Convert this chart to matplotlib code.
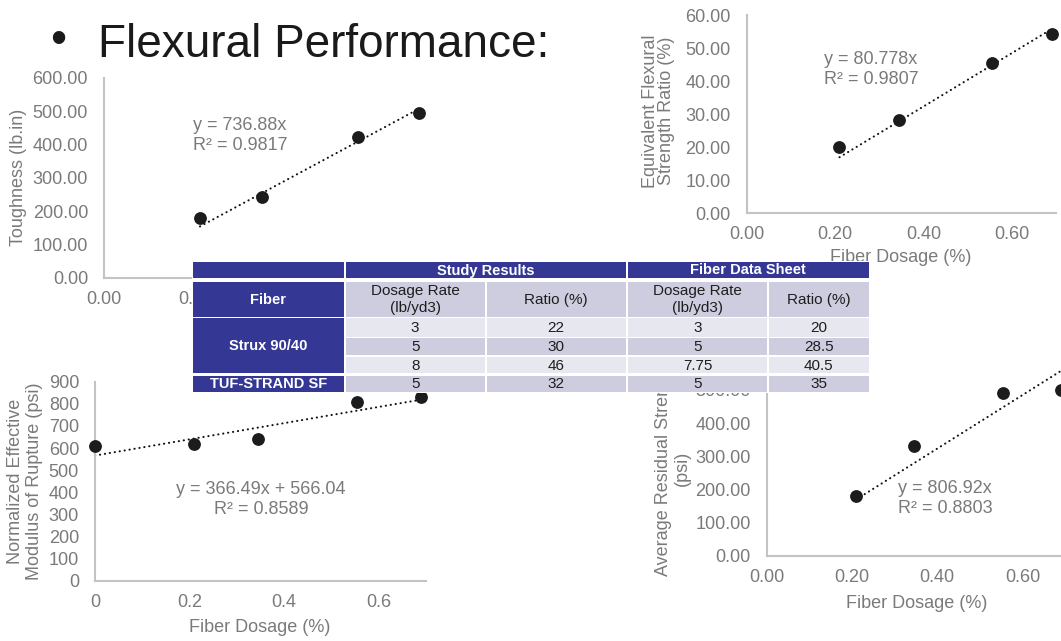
import matplotlib
matplotlib.use("Agg")
import matplotlib.pyplot as plt
from matplotlib.patches import Rectangle
from matplotlib.ticker import FormatStrFormatter, MultipleLocator
from matplotlib import font_manager

# ---------------- data ----------------
fiber_dosage = [0.21, 0.345, 0.555, 0.69]
toughness = [181, 242, 422, 496]
flexural_ratio = [20.2, 28.3, 45.4, 54.3]
mor_dosage = [0.0, 0.21, 0.345, 0.555, 0.69]
mor_values = [609, 618, 639, 807, 832]
residual_strength = [181, 330, 492, 499]

toughness_fit = (736.88, 0.0, 0.9817)
ratio_fit = (80.778, 0.0, 0.9807)
mor_fit = (366.49, 566.04, 0.8589)
residual_fit = (806.92, 0.0, 0.8803)

table_groups = ["Study Results", "Fiber Data Sheet"]
table_columns = ["Fiber", "Dosage Rate\n(lb/yd3)", "Ratio (%)", "Dosage Rate\n(lb/yd3)", "Ratio (%)"]
fiber_names = ["Strux 90/40", "TUF-STRAND SF"]
fiber_row_counts = [3, 1]
study_dosage = ["3", "5", "8", "5"]
study_ratio = ["22", "30", "46", "32"]
sheet_dosage = ["3", "5", "7.75", "5"]
sheet_ratio = ["20", "28.5", "40.5", "35"]

# ---------------- style ----------------
W, H = 1061, 641
SANS = ["Liberation Sans", "DejaVu Sans"]
avail = {f.name for f in font_manager.fontManager.ttflist}
NARROW = ["Liberation Sans Narrow", "Liberation Sans"] if "Liberation Sans Narrow" in avail else SANS
plt.rcParams["font.family"] = SANS

GRAY_TXT = "#7a7a7a"
AXIS_GRAY = "#c3c3c3"
BLUE = "#343894"
LIGHT = "#e7e7f0"
DARK = "#cdcddf"
FS = 13

fig = plt.figure(figsize=(W / 100, H / 100), dpi=100)
fig.patch.set_facecolor("white")


def px_axes(left, top, right, bottom, **kw):
    return fig.add_axes([left / W, 1 - bottom / H, (right - left) / W, (bottom - top) / H], **kw)


def style_axes(ax, xlim, ylim, xstep, ystep, xfmt, yfmt):
    ax.set_xlim(*xlim)
    ax.set_ylim(*ylim)
    ax.xaxis.set_major_locator(MultipleLocator(xstep))
    ax.yaxis.set_major_locator(MultipleLocator(ystep))
    ax.xaxis.set_major_formatter(FormatStrFormatter(xfmt))
    ax.yaxis.set_major_formatter(FormatStrFormatter(yfmt))
    for s in ("top", "right"):
        ax.spines[s].set_visible(False)
    for s in ("left", "bottom"):
        ax.spines[s].set_color(AXIS_GRAY)
        ax.spines[s].set_linewidth(1.5)
    ax.tick_params(axis="x", length=0, pad=9.5, labelsize=FS, labelcolor=GRAY_TXT)
    ax.tick_params(axis="y", length=0, pad=11.5, labelsize=FS, labelcolor=GRAY_TXT)
    ax.patch.set_alpha(0)


def scatter_with_trend(ax, xs, ys, fit, x0, x1):
    slope, intercept, _ = fit
    ax.plot([x0, x1], [slope * x0 + intercept, slope * x1 + intercept],
            color="#111111", lw=1.5, linestyle=(0, (0.1, 2.3)),
            dash_capstyle="round", zorder=2, clip_on=False)
    ax.plot(xs, ys, "o", color="#1c1c1c", markersize=8.2, zorder=3, clip_on=False)


def fit_label(slope, intercept, r2):
    eq = f"y = {slope:g}x" if intercept == 0 else f"y = {slope:g}x + {intercept:g}"
    return f"{eq}\nR² = {r2:.4f}"


# Toughness (top left)
ax1 = px_axes(104, 78, 424, 278)
style_axes(ax1, (0, 0.7), (0, 600), 0.2, 100, "%.2f", "%.2f")
scatter_with_trend(ax1, fiber_dosage, toughness, toughness_fit, fiber_dosage[0], fiber_dosage[-1])

# Equivalent flexural strength ratio (top right)
ax2 = px_axes(746.7, 15, 1056, 213.3)
style_axes(ax2, (0, 0.7), (0, 60), 0.2, 10, "%.2f", "%.2f")
scatter_with_trend(ax2, fiber_dosage, flexural_ratio, ratio_fit, fiber_dosage[0], fiber_dosage[-1])

# Normalized effective MOR (bottom left)
ax3 = px_axes(95, 381.7, 426, 580.7)
style_axes(ax3, (0, 0.7), (0, 900), 0.2, 100, "%g", "%d")
scatter_with_trend(ax3, mor_dosage, mor_values, mor_fit, mor_dosage[0], mor_dosage[-1])

# Average residual strength (bottom right)
ax4 = px_axes(766.7, 356.7, 1065, 555.7)
style_axes(ax4, (0, 0.7), (0, 600), 0.2, 100, "%.2f", "%.2f")
scatter_with_trend(ax4, fiber_dosage, residual_strength, residual_fit, fiber_dosage[0], fiber_dosage[-1])


# ---------------- pixel-space layers ----------------
def pixel_layer(z):
    a = fig.add_axes([0, 0, 1, 1], zorder=z)
    a.set_xlim(0, W)
    a.set_ylim(H, 0)
    a.axis("off")
    a.patch.set_alpha(0)
    return a


labels = pixel_layer(5)   # axis titles, equations, heading
tab = pixel_layer(10)     # table drawn over everything


def gtext(x, y, s, **kw):
    kw.setdefault("color", GRAY_TXT)
    kw.setdefault("fontsize", FS)
    kw.setdefault("linespacing", 1.1)
    return labels.text(x, y, s, **kw)


# axis titles
gtext(18.5, 177.5, "Toughness (lb.in)", rotation=90, ha="center", va="center")
gtext(264, 321, "Fiber Dosage (%)", ha="center", va="center")
gtext(658.5, 111, "Equivalent Flexural\nStrength Ratio (%)", rotation=90, ha="center",
      va="center", linespacing=0.85)
gtext(901, 258, "Fiber Dosage (%)", ha="center", va="center")
gtext(25, 481.5, "Normalized Effective\nModulus of Rupture (psi)", rotation=90, ha="center",
      va="center", linespacing=1.15)
gtext(260, 627.5, "Fiber Dosage (%)", ha="center", va="center")
gtext(672.5, 468, "Average Residual Strength\n(psi)", rotation=90, ha="center", va="center",
      linespacing=1.15)
gtext(916.5, 603, "Fiber Dosage (%)", ha="center", va="center")

# trend line equations
gtext(193, 135.5, fit_label(*toughness_fit), ha="left", va="center", linespacing=1.25)
gtext(824, 69.5, fit_label(*ratio_fit), ha="left", va="center", linespacing=1.25)
gtext(261, 499.5, fit_label(*mor_fit), ha="center", va="center", multialignment="center",
      linespacing=1.25)
gtext(897.5, 498.5, fit_label(*residual_fit), ha="left", va="center", linespacing=1.25)

# heading
labels.text(58.5, 41, "•", fontsize=33, color="#1a1a1a", ha="center", va="center")
labels.text(97.5, 56.7, "Flexural Performance:", fontsize=33, color="#1a1a1a",
            ha="left", va="baseline")

# ---------------- table ----------------
col_x = [192.3, 344.6, 485.8, 626.7, 768.3, 869.5]
hdr1 = (262.3, 277.7)
hdr2 = (281.7, 316.7)
data_rows = [(318.3, 336.7), (338.3, 355.0), (356.7, 373.3), (375.5, 391.7)]
GAP = 0.9


def cell(x0, x1, y0, y1, fc, text="", **kw):
    tab.add_patch(Rectangle((x0 + GAP, y0), (x1 - x0) - 2 * GAP, y1 - y0,
                            facecolor=fc, edgecolor="none", zorder=1))
    if text:
        tab.text((x0 + x1) / 2, (y0 + y1) / 2 + 0.5, text, ha="center", va="center",
                 zorder=2, **kw)


white_bold = dict(color="white", fontsize=10.5, fontweight="bold", family=SANS)
body = dict(color="#1e1e1e", fontsize=11, family=NARROW, linespacing=1.25)

tab.add_patch(Rectangle((col_x[0], hdr1[0] - 1), col_x[-1] - col_x[0], data_rows[-1][1] - hdr1[0] + 2,
                        facecolor="white", edgecolor="none", zorder=0.5))
cell(col_x[0], col_x[1], *hdr1, BLUE)
cell(col_x[1], col_x[3], *hdr1, BLUE, table_groups[0], **white_bold)
cell(col_x[3], col_x[5], *hdr1, BLUE, table_groups[1], **white_bold)

cell(col_x[0], col_x[1], *hdr2, BLUE, table_columns[0], **white_bold)
for j in range(1, 5):
    cell(col_x[j], col_x[j + 1], *hdr2, DARK, table_columns[j], **body)

r = 0
for name, n in zip(fiber_names, fiber_row_counts):
    cell(col_x[0], col_x[1], data_rows[r][0], data_rows[r + n - 1][1], BLUE, name, **white_bold)
    r += n

for i, vals in enumerate(zip(study_dosage, study_ratio, sheet_dosage, sheet_ratio)):
    fc = LIGHT if i % 2 == 0 else DARK
    for j, v in enumerate(vals, start=1):
        cell(col_x[j], col_x[j + 1], *data_rows[i], fc, v, **body)

fig.savefig("out.png", dpi=100, facecolor="white")
